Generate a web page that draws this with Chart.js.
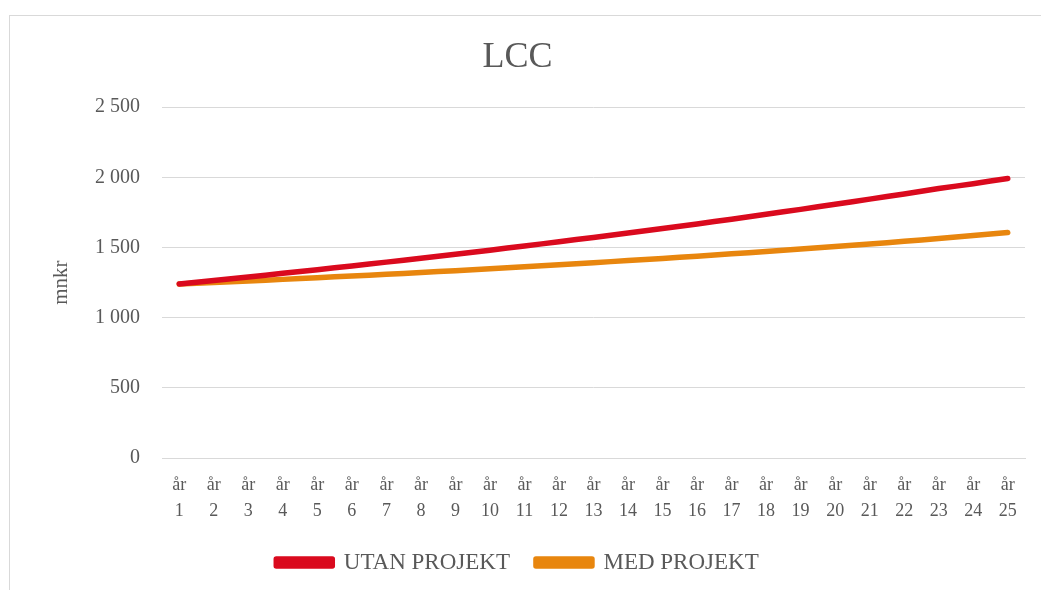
<!DOCTYPE html>
<html>
<head>
<meta charset="utf-8">
<script src="https://cdn.jsdelivr.net/npm/chart.js@4.4.1/dist/chart.umd.min.js"></script>
<style>
  html, body { margin: 0; padding: 0; background: #ffffff; width: 1041px; height: 590px; overflow: hidden; }
  #frame { position: absolute; left: 9px; top: 15px; width: 1040px; height: 580px;
           border-left: 1px solid #d9d9d9; border-top: 1px solid #d9d9d9; }
  #wrap { position: absolute; left: 10px; top: 16px; width: 1031px; height: 574px; }
</style>
</head>
<body>
<div id="frame"></div>
<div id="wrap"><canvas id="c" width="1031" height="574"></canvas></div>
<script>
const years = ['1','2','3','4','5','6','7','8','9','10','11','12','13','14','15','16','17','18','19','20','21','22','23','24','25'];
const categories = years.map(y => ['år', y]);
const utanProjekt = [1240, 1265, 1290, 1316, 1342, 1369, 1396, 1424, 1452, 1481, 1511, 1541, 1572, 1603, 1635, 1668, 1702, 1737, 1772, 1808, 1845, 1882, 1920, 1955, 1992];
const medProjekt  = [1240, 1251, 1262, 1273, 1285, 1297, 1309, 1322, 1335, 1349, 1363, 1377, 1392, 1407, 1422, 1438, 1455, 1472, 1489, 1507, 1525, 1544, 1564, 1585, 1607];
const yTickValues = [0, 500, 1000, 1500, 2000, 2500];
const yTickLabels = ['0', '500', '1 000', '1 500', '2 000', '2 500'];
const seriesNames = ['UTAN PROJEKT', 'MED PROJEKT'];

const serif = '"Liberation Serif", "Times New Roman", serif';
const txt = '#595959';

new Chart(document.getElementById('c'), {
  type: 'line',
  data: {
    labels: categories,
    datasets: [
      { label: seriesNames[0], data: utanProjekt, borderColor: '#DA0A1E', backgroundColor: '#DA0A1E',
        borderWidth: 5.5, pointRadius: 0, tension: 0.2, borderCapStyle: 'round', borderJoinStyle: 'round' },
      { label: seriesNames[1], data: medProjekt, borderColor: '#E8860E', backgroundColor: '#E8860E',
        borderWidth: 5.5, pointRadius: 0, tension: 0.2, borderCapStyle: 'round', borderJoinStyle: 'round' }
    ]
  },
  options: {
    responsive: false,
    animation: false,
    layout: { padding: { left: 0, right: 16, top: 0, bottom: 6 } },
    plugins: {
      title: { display: true, text: 'LCC', color: txt,
               font: { family: serif, size: 36, weight: 'normal', lineHeight: 1.2 },
               padding: { top: 20, bottom: 28 } },
      legend: { position: 'bottom',
                labels: { color: txt, font: { family: serif, size: 23 }, boxWidth: 56, boxHeight: 7, padding: 26 } },
      tooltip: { enabled: false }
    },
    scales: {
      x: {
        offset: true,
        grid: { display: false, drawTicks: false },
        border: { display: true, color: '#d9d9d9', width: 1 },
        ticks: { color: txt, font: { family: serif, size: 18, lineHeight: 1.4 }, padding: 15, maxRotation: 0, autoSkip: false },
        afterFit: s => { s.height = 67; }
      },
      y: {
        min: 0, max: 2500,
        afterBuildTicks: s => { s.ticks = yTickValues.map(v => ({ value: v })); },
        grid: { color: '#d9d9d9', lineWidth: 1, drawTicks: false },
        border: { display: false },
        ticks: { color: txt, font: { family: serif, size: 20 }, padding: 22,
                 callback: (v) => yTickLabels[yTickValues.indexOf(v)] },
        title: { display: true, text: 'mnkr', color: txt, font: { family: serif, size: 21 }, padding: { top: 39, bottom: 0 } },
        afterFit: s => { s.width = 152; }
      }
    }
  }
});
</script>
</body>
</html>
